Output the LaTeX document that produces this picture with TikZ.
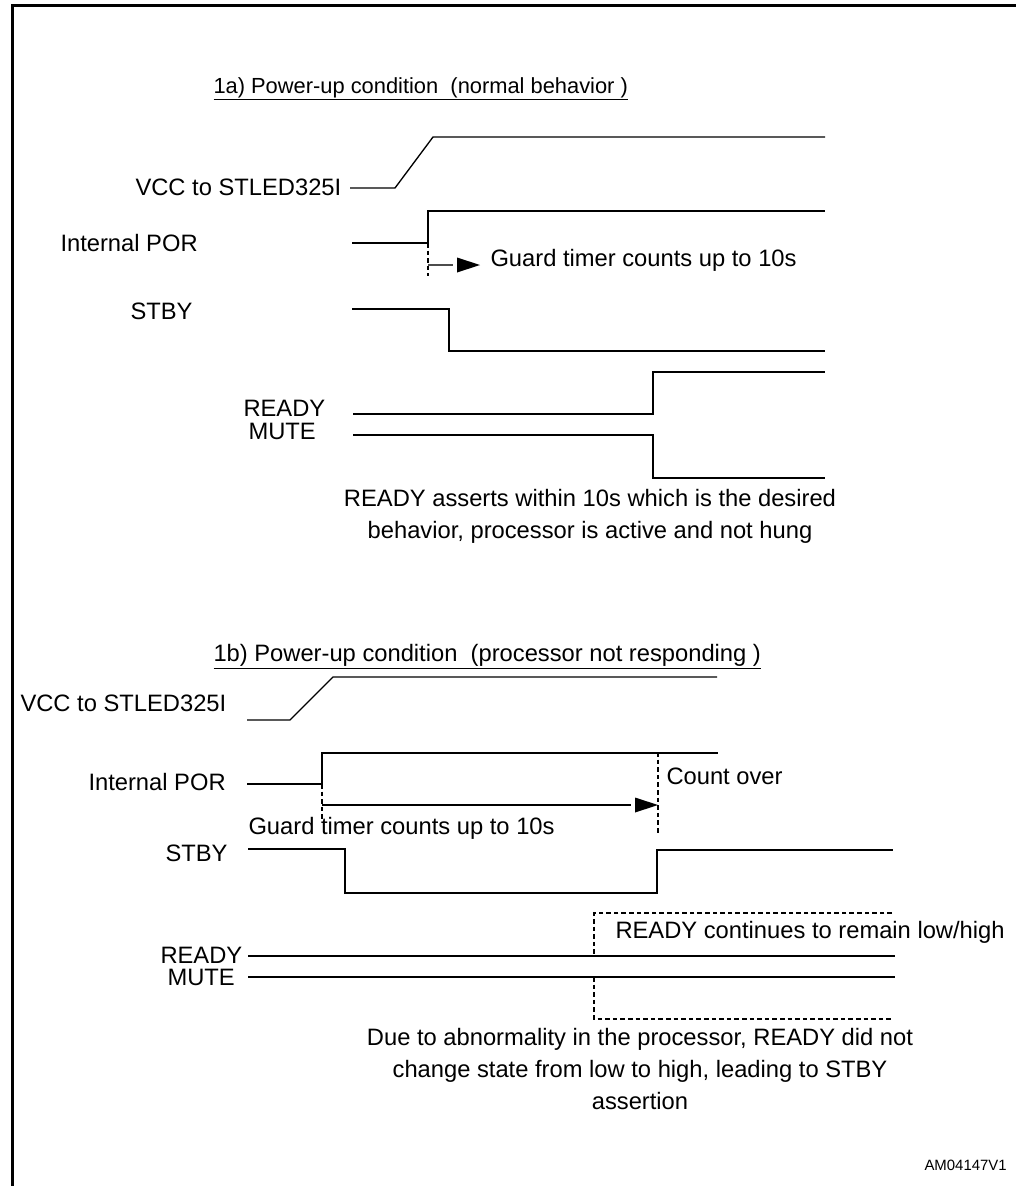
\documentclass[tikz,border=0pt]{standalone}
\usepackage{fontspec}
\setmainfont{Liberation Sans}
\tikzset{every picture/.style={line width=0.75pt}}
\tikzset{
  sig/.style={font=\fontsize{17.8}{24}\selectfont, inner sep=0pt, anchor=base west},
  title/.style={font=\fontsize{16.4}{22}\selectfont, inner sep=0pt, anchor=base west},
  note/.style={font=\fontsize{17.8}{24}\selectfont, inner sep=0pt, align=center, anchor=base},
  wave/.style={line width=1pt},
  guard/.style={line width=1pt, dash pattern=on 3.5pt off 2.2pt},
}

\begin{document}
\begin{tikzpicture}[x=0.75pt,y=0.75pt,yscale=-1,xscale=1]
\useasboundingbox (0,0) rectangle (1016,1186);

%Frame
\draw [line width=2.2pt] (12.5,1190) -- (12.5,5.5) -- (1020,5.5) ;

%%%%% 1a
% Text Node
\draw (213,93) node [title] (titleA) {\underline{1a) Power-up condition\ \ (normal behavior\ )}};
\draw (135,195.5) node [sig] (vccA) {VCC to STLED325I};
\draw (60,251.5) node [sig] (porA) {Internal POR};
\draw (130,319.5) node [sig] (stbyA) {STBY};
\draw (243,416.5) node [sig] (readyA) {READY};
\draw (248,439.5) node [sig] (muteA) {MUTE};
\draw (490,266.5) node [sig] (guardA) {Guard timer counts up to 10s};
% last line baseline
\draw (590,538.5) node [note] (noteA) {READY asserts within 10s which is the desired\\behavior, processor is active and not hung};

%Straight Lines
\draw [wave] (350,188) -- (395,188) -- (433,137) -- (825,137) ;
\draw [wave] (352,243) -- (428,243) -- (428,211) -- (825,211) ;
\draw [wave] (352,309) -- (449,309) -- (449,351) -- (825,351) ;
\draw [wave] (353,414) -- (653,414) -- (653,372) -- (825,372) ;
\draw [wave] (353,435) -- (653,435) -- (653,478) -- (825,478) ;
\draw [guard] (428,243) -- (428,276) ;

% Connection
\coordinate (startA) at (428,265) ;
\coordinate (tipA) at (480,265) ;
\draw [wave, draw=black!70] (startA) -- ([xshift=-20]tipA) ;
\draw [shift={(tipA)}, rotate = 180] [fill=black][line width=0.08] [draw opacity=0] (23,-7.5) -- (0,0) -- (23,7.5) -- cycle ;

%%%%% 1b
% Text Node
\draw (213,661) node [sig] (titleB) {\underline{1b) Power-up condition\ \ (processor not responding\ )}};
\draw (20,711) node [sig] (vccB) {VCC to STLED325I};
\draw (88,790.5) node [sig] (porB) {Internal POR};
\draw (165,861.5) node [sig] (stbyB) {STBY};
\draw (160,963.5) node [sig] (readyB) {READY};
\draw (167,985.5) node [sig] (muteB) {MUTE};
\draw (248,834) node [sig] (guardB) {Guard timer counts up to 10s};
\draw (666,784) node [sig] (countB) {Count over};
\draw (615,938) node [sig] (remainB) {READY continues to remain low/high};
% last line baseline
\draw (640,1109) node [note] (noteB) {Due to abnormality in the processor, READY did not\\change state from low to high, leading to STBY\\assertion};

%Straight Lines
\draw [wave] (247,720) -- (290,720) -- (333,677) -- (717,677) ;
\draw [wave] (247,784) -- (322,784) -- (322,753) -- (718,753) ;
\draw [wave] (248,849) -- (345,849) -- (345,893) -- (657,893) -- (657,850) -- (893,850) ;
\draw [wave] (248,956) -- (895,956) ;
\draw [wave] (248,977) -- (895,977) ;
\draw [guard] (322,784) -- (322,822) ;
\draw [guard] (658,752) -- (658,835) ;
\draw [guard] (892,913) -- (594,913) -- (594,956) ;
\draw [guard] (594,977) -- (594,1019) -- (892,1019) ;

% Connection
\coordinate (startB) at (322,805) ;
\coordinate (tipB) at (658,805) ;
\draw [wave] (startB) -- ([xshift=-20]tipB) ;
\draw [shift={(tipB)}, rotate = 180] [fill=black][line width=0.08] [draw opacity=0] (23,-7.5) -- (0,0) -- (23,7.5) -- cycle ;

% Text Node
\draw (924,1170) node [sig, font=\fontsize{11.2}{13}\selectfont] (idB) {AM04147V1};

\end{tikzpicture}
\end{document}
